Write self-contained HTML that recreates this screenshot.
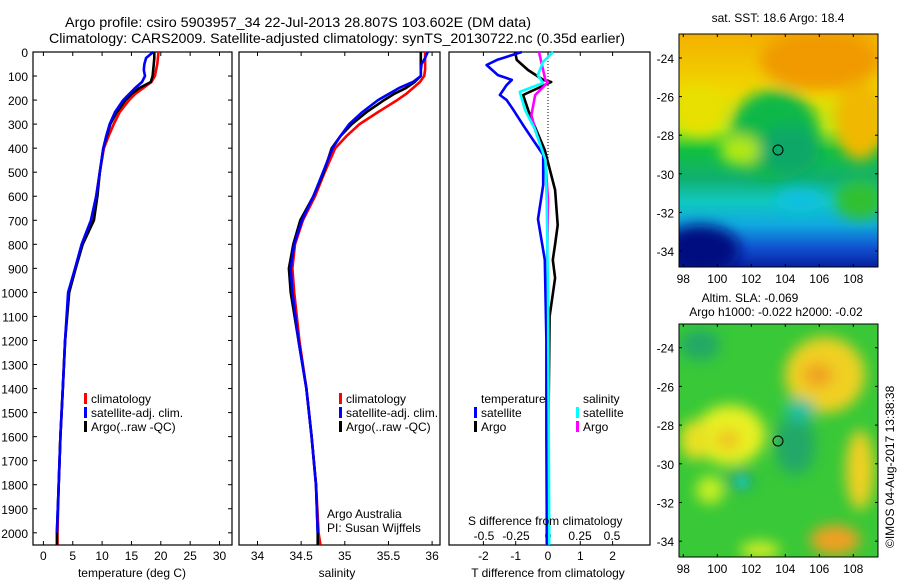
<!DOCTYPE html>
<html><head><meta charset="utf-8"><style>
body{margin:0;background:#fff}
svg{display:block;font-family:"Liberation Sans",sans-serif}
</style></head><body>
<svg id="c" width="900" height="580" viewBox="0 0 900 580" xmlns="http://www.w3.org/2000/svg">
<defs>
<filter id="bl" x="-50%" y="-50%" width="200%" height="200%"><feGaussianBlur stdDeviation="7"/></filter>
<filter id="bl2" x="-50%" y="-50%" width="200%" height="200%"><feGaussianBlur stdDeviation="5"/></filter>
<clipPath id="m1"><rect x="679" y="34" width="199" height="233"/></clipPath>
<clipPath id="m2"><rect x="679" y="324" width="199" height="233"/></clipPath>
<linearGradient id="g1" x1="0" y1="0" x2="0" y2="1">
<stop offset="0" stop-color="#f4b000"/><stop offset="0.25" stop-color="#f0d800"/><stop offset="0.4" stop-color="#b8ec10"/>
<stop offset="0.5" stop-color="#10c040"/><stop offset="0.62" stop-color="#10b070"/><stop offset="0.72" stop-color="#10c8c0"/>
<stop offset="0.82" stop-color="#10a8e0"/><stop offset="0.92" stop-color="#1050d0"/><stop offset="1" stop-color="#0820a0"/></linearGradient>
</defs>
<g id="titles">
<text x="65" y="27" font-size="14" textLength="466" lengthAdjust="spacingAndGlyphs">Argo profile: csiro 5903957_34 22-Jul-2013 28.807S 103.602E (DM data)</text>
<text x="49" y="43" font-size="14" textLength="576" lengthAdjust="spacingAndGlyphs">Climatology: CARS2009. Satellite-adjusted climatology: synTS_20130722.nc (0.35d earlier)</text>
</g>
<g id="p1"></g><g id="p2"></g><g id="p3"></g>
<g id="maps">
<text x="778" y="22" font-size="12" text-anchor="middle">sat. SST: 18.6 Argo: 18.4</text>
<g clip-path="url(#m1)">
<rect x="679" y="34" width="199" height="233" fill="url(#g1)"/>
<g filter="url(#bl)">
<ellipse cx="820" cy="60" rx="60" ry="30" fill="#f09a00"/>
<ellipse cx="860" cy="120" rx="25" ry="40" fill="#f0b800"/>
<ellipse cx="700" cy="110" rx="25" ry="25" fill="#e8e000"/>
<ellipse cx="775" cy="135" rx="45" ry="45" fill="#10b848"/>
<ellipse cx="790" cy="150" rx="30" ry="25" fill="#10a868"/>
<ellipse cx="740" cy="150" rx="20" ry="15" fill="#b0e818"/>
<ellipse cx="860" cy="200" rx="25" ry="20" fill="#30c030"/>
<ellipse cx="700" cy="250" rx="40" ry="25" fill="#041080"/>
<ellipse cx="800" cy="200" rx="25" ry="12" fill="#10c0e0"/>
</g>
</g>
<rect x="679" y="34" width="199" height="233" fill="none" stroke="#000"/>
<circle cx="778" cy="150" r="5" fill="none" stroke="#000"/>
<text x="750" y="302" font-size="12" text-anchor="middle">Altim. SLA: -0.069</text>
<text x="776" y="316" font-size="12" text-anchor="middle">Argo h1000: -0.022 h2000: -0.02</text>
<g clip-path="url(#m2)">
<rect x="679" y="324" width="199" height="233" fill="#38c838"/>
<g filter="url(#bl)">
<ellipse cx="825" cy="375" rx="40" ry="38" fill="#f0d020"/>
<ellipse cx="818" cy="375" rx="15" ry="12" fill="#f0a020"/>
<ellipse cx="730" cy="435" rx="35" ry="30" fill="#e8f020"/>
<ellipse cx="728" cy="440" rx="12" ry="10" fill="#f0c020"/>
<ellipse cx="695" cy="440" rx="15" ry="20" fill="#e8e020"/>
<ellipse cx="835" cy="540" rx="25" ry="15" fill="#f0a020"/>
<ellipse cx="860" cy="470" rx="14" ry="40" fill="#f0d020"/>
<ellipse cx="710" cy="490" rx="14" ry="14" fill="#c8f020"/>
<ellipse cx="740" cy="480" rx="14" ry="10" fill="#20a868"/>
<ellipse cx="795" cy="445" rx="20" ry="30" fill="#20a868"/>
<ellipse cx="800" cy="410" rx="15" ry="12" fill="#20c0a0"/>
<ellipse cx="760" cy="550" rx="20" ry="8" fill="#e0f020"/>
<ellipse cx="700" cy="345" rx="20" ry="15" fill="#20a868"/>
</g>
<ellipse cx="742" cy="482" rx="6" ry="6" fill="#20d0c0" filter="url(#bl2)"/>
</g>
<rect x="679" y="324" width="199" height="233" fill="none" stroke="#000"/>
<circle cx="778" cy="441" r="5" fill="none" stroke="#000"/>
<text transform="translate(894,548) rotate(-90)" font-size="12">©IMOS 04-Aug-2017 13:38:38</text>
</g>
<g id="mapaxes"></g>
</svg>
<script>
// ---- data ----
const depths = [0,25,50,75,100,125,150,175,200,250,300,350,400,500,600,700,800,900,1000,1200,1400,1600,1800,2000,2050];
const tempClim = [19.6,19.5,19.4,19.2,19.0,18.4,17.0,15.6,14.6,13.0,12.0,11.1,10.3,9.6,9.0,8.2,6.6,5.4,4.3,3.7,3.3,2.9,2.6,2.4,2.4];
const tempArgo = [18.9,18.9,18.8,18.7,18.6,18.3,16.3,15.0,14.0,12.5,11.4,10.8,10.2,9.6,9.2,8.6,6.7,5.5,4.4,3.7,3.3,2.9,2.6,2.3,2.3];
const tempSat = [18.7,17.5,17.2,17.1,17.3,16.8,15.6,14.6,13.6,12.2,11.3,10.7,10.2,9.6,9.0,8.1,6.5,5.4,4.2,3.7,3.3,2.9,2.6,2.3,2.3];
const salClim = [35.92,35.92,35.92,35.92,35.91,35.86,35.78,35.7,35.6,35.38,35.17,35.02,34.89,34.77,34.66,34.52,34.43,34.40,34.42,34.48,34.56,34.62,34.67,34.70,34.72];
const salArgo = [35.87,35.87,35.87,35.87,35.87,35.8,35.7,35.56,35.45,35.25,35.08,34.95,34.85,34.76,34.64,34.49,34.41,34.36,34.38,34.47,34.56,34.62,34.67,34.69,34.69];
const salSat = [35.95,35.92,35.88,35.87,35.87,35.78,35.62,35.5,35.38,35.2,35.05,34.95,34.86,34.75,34.64,34.51,34.42,34.38,34.40,34.47,34.56,34.62,34.67,34.69,34.69];
const dTSatDepth = [0,33,54,96,116,137,179,200,241,304,366,428,553,695,865,1200,1600,2050];
const dTSat = [-0.81,-1.58,-1.9,-1.55,-1.12,-1.28,-1.49,-1.28,-1.07,-0.77,-0.46,-0.15,-0.15,-0.31,-0.1,-0.05,-0.05,-0.03];
const dTArgoDepth = [0,33,75,116,125,179,262,408,574,720,800,865,940,1100,1500,2050];
const dTArgo = [-1.02,-0.97,-0.62,-0.15,0.1,-0.77,-0.56,-0.1,0.22,0.3,0.22,0.15,0.22,0.05,0.02,0.0];
const dSSatDepth = [0,42,96,129,166,241,324,449,615,1000,2050];
const dSSat = [0.04,-0.04,-0.08,-0.04,-0.22,-0.18,-0.1,-0.02,-0.01,0.0,0.01];
const dSArgoDepth = [0,116,125,179,262,324,449,615,1000,2050];
const dSArgo = [-0.07,-0.02,0,-0.1,-0.13,-0.1,-0.02,0,-0.01,-0.01];
const depthTicks = [0,100,200,300,400,500,600,700,800,900,1000,1100,1200,1300,1400,1500,1600,1700,1800,1900,2000];
const tempTicks = [0,5,10,15,20,25,30];
const salTicks = [34,34.5,35,35.5,36];
const salTickLabels = ['34','34.5','35','35.5','36'];
const dTTicks = [-2,-1,0,1,2];
const dSTicks = [-0.5,-0.25,0,0.25,0.5];
const dSTickLabels = ['-0.5','-0.25','0','0.25','0.5'];
const lonTicks = [98,100,102,104,106,108];
const latTicks = [-24,-26,-28,-30,-32,-34];

const NS='http://www.w3.org/2000/svg';
function el(tag, attrs, parent, txt){const e=document.createElementNS(NS,tag);for(const k in attrs)e.setAttribute(k,attrs[k]);if(txt!==undefined)e.textContent=txt;parent.appendChild(e);return e;}
const yD = d => 52 + d*0.2404;
const xT = t => 43.4 + t*5.87;
const xS = s => 257.5 + (s-34)*87.3;
const xDT = v => 548 + v*32.3;
const xDS = v => 548 + v*128;
const TOP=52, BOT=545;

function line(g, xs, ds, fx, color, name){
  const pts = xs.map((v,i)=>fx(v).toFixed(1)+','+yD(ds[i]).toFixed(1)).join(' ');
  const p = el('polyline',{points:pts,fill:'none',stroke:color,'stroke-width':2.6,'stroke-linejoin':'round'},g);
  
  
}
function frame(g,x0,x1,name){
  const r=el('rect',{x:x0,y:TOP,width:x1-x0,height:BOT-TOP,fill:'none',stroke:'#000','stroke-width':1.2},g);
  
  
}
function legendRow(g,x,y,color,label,name){
  el('rect',{x:x,y:y-10,width:3,height:11,fill:color},g);
  const t=el('text',{x:x+7,y:y,'font-size':12},g,label);
  
  
}

// Panel 1
const p1=document.getElementById('p1');
frame(p1,33,232,'temperature-plot-frame');
depthTicks.forEach(d=>{
  const t=el('text',{x:28,y:yD(d)+5,'font-size':12,'text-anchor':'end'},p1,String(d));
  
  
  el('line',{x1:33,x2:37,y1:yD(d),y2:yD(d),stroke:'#000'},p1);
  el('line',{x1:228,x2:232,y1:yD(d),y2:yD(d),stroke:'#000'},p1);
});
tempTicks.forEach(v=>{
  const t=el('text',{x:xT(v),y:560,'font-size':12,'text-anchor':'middle'},p1,String(v));
  
  
  el('line',{x1:xT(v),x2:xT(v),y1:TOP,y2:TOP+4,stroke:'#000'},p1);
  el('line',{x1:xT(v),x2:xT(v),y1:BOT,y2:BOT-4,stroke:'#000'},p1);
});
let tt=el('text',{x:132,y:577,'font-size':12,'text-anchor':'middle'},p1,'temperature (deg C)');


line(p1,tempClim,depths,xT,'#ff0000','temperature-climatology-line');
line(p1,tempArgo,depths,xT,'#000000','temperature-argo-line');
line(p1,tempSat.slice(0,24),depths.slice(0,24),xT,'#0000ff','temperature-satellite-line');
legendRow(p1,84,403,'#ff0000','climatology','legend-climatology');
legendRow(p1,84,417,'#0000ff','satellite-adj. clim.','legend-satellite-adj');
legendRow(p1,84,431,'#000000','Argo(..raw -QC)','legend-argo');

// Panel 2
const p2=document.getElementById('p2');
frame(p2,239,440,'salinity-plot-frame');
salTicks.forEach((v,i)=>{
  const t=el('text',{x:xS(v),y:560,'font-size':12,'text-anchor':'middle'},p2,salTickLabels[i]);
  
  
  el('line',{x1:xS(v),x2:xS(v),y1:TOP,y2:TOP+4,stroke:'#000'},p2);
  el('line',{x1:xS(v),x2:xS(v),y1:BOT,y2:BOT-4,stroke:'#000'},p2);
});
tt=el('text',{x:337,y:577,'font-size':12,'text-anchor':'middle'},p2,'salinity');


line(p2,salClim,depths,xS,'#ff0000','salinity-climatology-line');
line(p2,salArgo,depths,xS,'#000000','salinity-argo-line');
line(p2,salSat.slice(0,24),depths.slice(0,24),xS,'#0000ff','salinity-satellite-line');
legendRow(p2,339,403,'#ff0000','climatology','legend-climatology-sal');
legendRow(p2,339,417,'#0000ff','satellite-adj. clim.','legend-satellite-adj-sal');
legendRow(p2,339,431,'#000000','Argo(..raw -QC)','legend-argo-sal');
tt=el('text',{x:327,y:518,'font-size':12},p2,'Argo Australia');


tt=el('text',{x:327,y:532,'font-size':12},p2,'PI: Susan Wijffels');



// Panel 3
const p3=document.getElementById('p3');
frame(p3,449,650,'difference-plot-frame');
el('line',{x1:548,x2:548,y1:TOP,y2:165,stroke:'#000','stroke-dasharray':'1,2'},p3);
dTTicks.forEach(v=>{
  const t=el('text',{x:xDT(v),y:560,'font-size':12,'text-anchor':'middle'},p3,String(v));
  
  
  el('line',{x1:xDT(v),x2:xDT(v),y1:TOP,y2:TOP+4,stroke:'#000'},p3);
  el('line',{x1:xDT(v),x2:xDT(v),y1:BOT,y2:BOT-4,stroke:'#000'},p3);
});
dSTicks.forEach((v,i)=>{
  const t=el('text',{x:xDS(v),y:540,'font-size':12,'text-anchor':'middle'},p3,dSTickLabels[i]);
  
  
});
line(p3,dTArgo,dTArgoDepth,xDT,'#000000','tdiff-argo-line');
line(p3,dSArgo,dSArgoDepth,xDS,'#ff00ff','sdiff-argo-line');
line(p3,dTSat,dTSatDepth,xDT,'#0000ff','tdiff-satellite-line');
line(p3,dSSat,dSSatDepth,xDS,'#00ffff','sdiff-satellite-line');
tt=el('text',{x:468,y:525,'font-size':12},p3,'S difference from climatology');


tt=el('text',{x:548,y:577,'font-size':12,'text-anchor':'middle'},p3,'T difference from climatology');


tt=el('text',{x:481,y:403,'font-size':12},p3,'temperature');


tt=el('text',{x:583,y:403,'font-size':12},p3,'salinity');


legendRow(p3,474,417,'#0000ff','satellite','legend-t-satellite');
legendRow(p3,474,431,'#000000','Argo','legend-t-argo');
legendRow(p3,576,417,'#00ffff','satellite','legend-s-satellite');
legendRow(p3,576,431,'#ff00ff','Argo','legend-s-argo');

// map axes
const ma=document.getElementById('mapaxes');
const xLon = l => 683.3 + (l-98)*17;
[[58,19.3,34,267,283],[347.7,19.35,324,557,573]].forEach(([y24,sc,top,bot,ly])=>{
  lonTicks.forEach(l=>{
    const t=el('text',{x:xLon(l),y:ly,'font-size':12,'text-anchor':'middle'},ma,String(l));
    
    
    el('line',{x1:xLon(l),x2:xLon(l),y1:top,y2:top+3,stroke:'#000'},ma);
    el('line',{x1:xLon(l),x2:xLon(l),y1:bot,y2:bot-3,stroke:'#000'},ma);
  });
  latTicks.forEach(la=>{
    const y=y24+(-24-la)*sc;
    const t=el('text',{x:674,y:y+5,'font-size':12,'text-anchor':'end'},ma,String(la));
    
    
    el('line',{x1:679,x2:682,y1:y,y2:y,stroke:'#000'},ma);
    el('line',{x1:875,x2:878,y1:y,y2:y,stroke:'#000'},ma);
  });
});
</script>
</body></html>
